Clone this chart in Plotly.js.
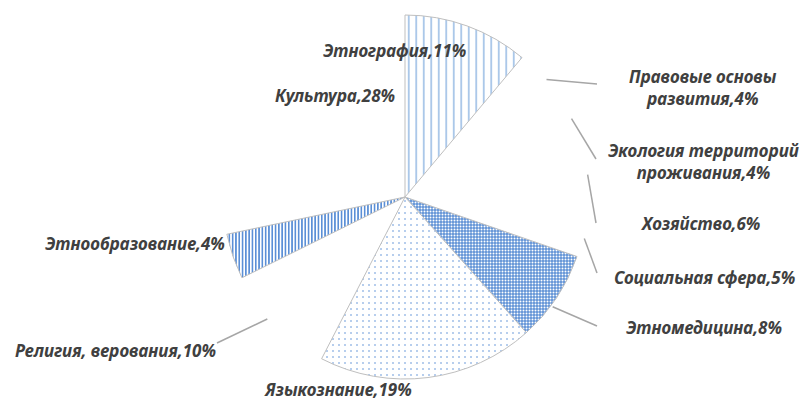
<!DOCTYPE html>
<html>
<head>
<meta charset="utf-8">
<script src="https://cdn.plot.ly/plotly-3.0.1.min.js"></script>
<style>html,body{margin:0;padding:0;background:#fff;}#chart{width:802px;height:401px;}</style>
</head>
<body>
<div id="chart"></div>
<script>
// ---- data ----
const categories = [
  "Этнография", "Правовые основы развития", "Экология территорий проживания",
  "Хозяйство", "Социальная сфера", "Этномедицина", "Языкознание",
  "Религия, верования", "Этнообразование", "Культура"
];
const labelTexts = [
  "Этнография,11%", "Правовые основы<br>развития,4%", "Экология территорий<br>проживания,4%",
  "Хозяйство,6%", "Социальная сфера,5%", "Этномедицина,8%", "Языкознание,19%",
  "Религия, верования,10%", "Этнообразование,4%", "Культура,28%"
];
const shares = [11, 4, 4, 6, 5, 8, 19, 10, 4, 28];

// ---- styles / layout (pixels) ----
const W = 802, H = 401;
const CX = 405, CY = 197, R = 182;
const T = "rgba(0,0,0,0)";
const fillColors = ["#ffffff",T,T,T,T,"#6a9ad6","#ffffff",T,"#ffffff",T];
const patShapes = ["|","","","","",".",".","","|",""];
const patFg = ["#5f96d6","#fff","#fff","#fff","#fff","#ffffff","#5b8fd6","#fff","#5b8fd6","#fff"];
const patBg = ["#ffffff",T,T,T,T,"#5f92d6","#ffffff",T,"#ffffff",T];
const patSize = [7.5, 8, 8, 8, 8, 3, 6, 8, 3.3, 8];
const patSolid = [0.13, 0.3, 0.3, 0.3, 0.3, 0.35, 0.06, 0.3, 0.5, 0.3];
const lineColors = ["#bfbfbf",T,T,T,T,"#bfbfbf","#bfbfbf",T,"#bfbfbf",T];
const lineWidths = [1,0,0,0,0,1,1,0,1,0];
// label centre positions (px) and leader-line end points (px)
const labelPos = [[394,50],[703,87],[703,162],[700,224],[704,277],[704,327],[338,389],[115,350],[135,244],[335,96]];
const leaderEnd = [null,[597,84],[596,159],[596,223],[597,273],[597,326],null,[217,343],null,null];

const px = x => x / W;
const py = y => 1 - y / H;

const total = shares.reduce((a, b) => a + b, 0);
let cum = 0;
const midAngles = shares.map(v => { const m = (cum + v / 2) / total * 360; cum += v; return m; });

const trace = {
  type: "pie",
  labels: categories,
  values: shares,
  sort: false,
  direction: "clockwise",
  rotation: 0,
  textinfo: "none",
  hoverinfo: "label+percent",
  showlegend: false,
  domain: { x: [px(CX - R), px(CX + R)], y: [py(CY + R), py(CY - R)] },
  marker: {
    colors: fillColors,
    line: { color: lineColors, width: lineWidths },
    pattern: { shape: patShapes, fgcolor: patFg, bgcolor: patBg, size: patSize, solidity: patSolid, fillmode: "replace" }
  }
};

const font = { family: "'Noto Sans', 'Open Sans', sans-serif", size: 17, color: "#404040", weight: 700, style: "italic" };

const annotations = labelTexts.map((t, i) => ({
  text: "<b><i>" + t + "</i></b>",
  xref: "paper", yref: "paper",
  x: px(labelPos[i][0]), y: py(labelPos[i][1]),
  xanchor: "center", yanchor: "middle",
  showarrow: false,
  font: font,
  align: "center"
}));

const shapes = [];
leaderEnd.forEach((e, i) => {
  if (!e) return;
  const a = (midAngles[i] + 3) * Math.PI / 180;
  const sx = CX + (R + 2) * Math.sin(a), sy = CY - (R + 2) * Math.cos(a);
  shapes.push({
    type: "line", xref: "paper", yref: "paper",
    x0: px(sx), y0: py(sy), x1: px(e[0]), y1: py(e[1]),
    line: { color: "#a6a6a6", width: 1.5 }
  });
});

const layout = {
  width: W, height: H,
  margin: { l: 0, r: 0, t: 0, b: 0 },
  paper_bgcolor: "#ffffff",
  plot_bgcolor: "#ffffff",
  annotations: annotations,
  shapes: shapes
};

Plotly.newPlot("chart", [trace], layout, { displayModeBar: false, staticPlot: true });
</script>
</body>
</html>
